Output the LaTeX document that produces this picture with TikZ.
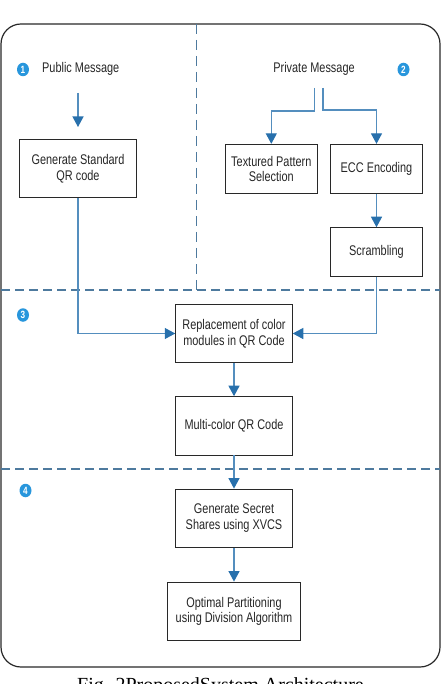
\documentclass[tikz,border=0pt]{standalone}
\usepackage{fontspec}
\setmainfont{Liberation Sans}[FakeStretch=0.78]
\newfontfamily\capfont{Liberation Serif}
\usetikzlibrary{arrows.meta,shapes.geometric}
\definecolor{connblue}{RGB}{84,142,190}
\definecolor{tipblue}{RGB}{40,112,172}
\definecolor{dashblue}{RGB}{78,122,158}
\definecolor{badgeblue}{RGB}{40,150,220}
\definecolor{framegray}{RGB}{40,40,40}
\tikzset{
  stepbox/.style={draw=framegray,fill=white,line width=0.9pt,align=center,inner sep=0pt,
    font=\fontsize{14}{15.6}\selectfont,text=black!85},
  lbl/.style={inner sep=0pt,font=\fontsize{14}{15.6}\selectfont,text=black!85},
  conn/.style={draw=connblue,line width=1.2pt,-{Triangle[width=11pt,length=10.5pt,color=tipblue]}},
  vsep/.style={draw=dashblue,line width=1.1pt,dash pattern=on 10pt off 6pt},
  hsep/.style={draw=dashblue,line width=1.1pt,dash pattern=on 9pt off 5pt},
  badge/.style={ellipse,fill=badgeblue,text=white,inner sep=0pt,minimum width=12pt,minimum height=13.5pt,
    font=\bfseries\fontsize{10.5}{10.5}\selectfont},
  outerframe/.style={draw=framegray,line width=1.2pt,rounded corners=20pt},
  capt/.style={inner sep=0pt,font=\capfont\fontsize{20}{22}\selectfont,text=black}
}
\begin{document}
\begin{tikzpicture}[x=1pt,y=-1pt]
\useasboundingbox (0,0) rectangle (444,684);
% frame and separators
\draw[outerframe] (1,24) rectangle (440,667);
\draw[vsep] (196.5,24) -- (196.5,290);
\draw[hsep] (1,290) -- (440,290);
\draw[hsep] (1,469) -- (440,469);
% badges
\node[badge] (b1) at (23,69.5) {1};
\node[badge] (b2) at (403.5,69.5) {2};
\node[badge] (b3) at (23,315) {3};
\node[badge] (b4) at (25.5,490.5) {4};
% labels
\node[lbl] (pub) at (80.7,69) {Public Message};
\node[lbl] (prv) at (314,69) {Private Message};
% boxes
\node[stepbox,minimum width=117pt,minimum height=58.5pt] (gsq) at (78,168.5) {Generate Standard\\QR code};
\node[stepbox,minimum width=92.7pt,minimum height=49.4pt] (tps) at (271.3,169) {Textured Pattern\\Selection};
\node[stepbox,minimum width=92.4pt,minimum height=49.4pt] (ecc) at (376.5,169) {ECC Encoding};
\node[stepbox,minimum width=92.4pt,minimum height=48.6pt] (scr) at (376.5,252) {Scrambling};
\node[stepbox,minimum width=116.6pt,minimum height=58.4pt] (rep) at (234,333.5) {Replacement of color\\modules in QR Code};
\node[stepbox,minimum width=116.6pt,minimum height=58.3pt] (mqr) at (234,425.8) {Multi-color QR Code};
\node[stepbox,minimum width=116.6pt,minimum height=58.3pt] (gss) at (234,518.2) {Generate Secret\\Shares using XVCS};
\node[stepbox,minimum width=133.4pt,minimum height=58.3pt] (opt) at (234,611.2) {Optimal Partitioning\\using Division Algorithm};
% connector coordinates
\coordinate (pubout) at (78,93);
\coordinate (pubend) at (78,127);
\coordinate (pvl) at (314.7,88);
\coordinate (pvlb) at (314.7,111);
\coordinate (pvr) at (323,88);
\coordinate (pvrb) at (323,110);
% connectors
\draw[conn] (pubout) -- (pubend);
\draw[conn] (pvl) -- (pvlb) -| (tps.north);
\draw[conn] (pvr) -- (pvrb) -| (ecc.north);
\draw[conn] (ecc) -- (scr);
\draw[conn] (scr.south) |- (rep.east);
\draw[conn] (gsq.south) |- (rep.west);
\draw[conn] (rep) -- (mqr);
\draw[conn] (mqr) -- (gss);
\draw[conn] (gss) -- (opt);
% caption
\node[capt,anchor=base] (cap) at (220.5,691.5) {Fig. 2ProposedSystem Architecture};
\end{tikzpicture}
\end{document}
